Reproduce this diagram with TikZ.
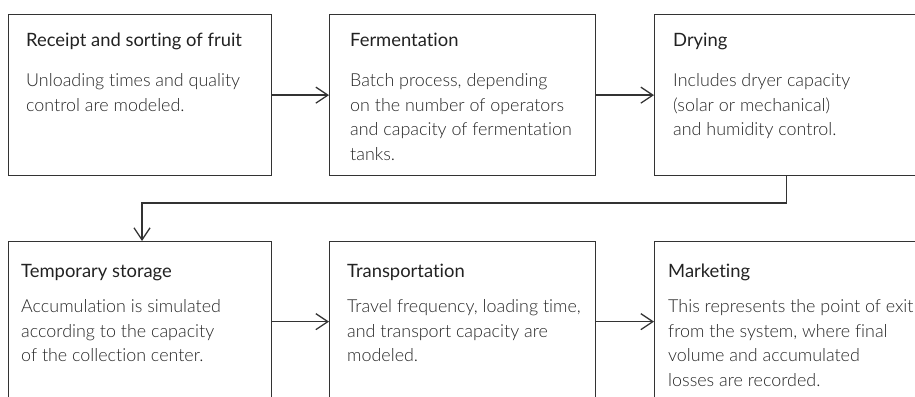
\documentclass[tikz,border=0pt]{standalone}
\usepackage{fontspec}
\setmainfont{Lato}[Ligatures={NoCommon}]
\newfontfamily\lightfont{Lato Light}[Ligatures={NoCommon}]
\usetikzlibrary{arrows.meta}
\definecolor{linec}{HTML}{333333}
\definecolor{titlec}{HTML}{222222}
\definecolor{bodyc}{HTML}{262626}
\newcommand\mylines[1]{\vtop{\halign{##\hfil\cr#1\crcr}}}
\begin{document}
\begin{tikzpicture}[x=1pt,y=1pt,
  box/.style={draw=linec, line width=1.3pt, inner sep=0pt, anchor=north west},
  ttl/.style={anchor=base west, inner sep=0pt, font=\fontsize{18.4}{22}\selectfont, text=titlec},
  bdy/.style={anchor=base west, inner sep=0pt, font=\lightfont\fontsize{17.9}{24.5}\selectfont, text=bodyc},
  conn/.style={draw=linec, line width=1.3pt, -{Straight Barb[length=12pt,width=16pt]}}]
\useasboundingbox (0,0) rectangle (915,396);
\clip (0,0) rectangle (915,396);
% boxes
\node[box, minimum width=263pt, minimum height=161pt] (b1) at (8,382) {};
\node[box, minimum width=266pt, minimum height=161pt] (b2) at (329,382) {};
\node[box, minimum width=264pt, minimum height=161pt] (b3) at (654,382) {};
\node[box, minimum width=263pt, minimum height=160pt] (b4) at (8,155) {};
\node[box, minimum width=266pt, minimum height=160pt] (b5) at (329,155) {};
\node[box, minimum width=264pt, minimum height=160pt] (b6) at (654,155) {};
% texts
\node[ttl] (t1) at (26,349) {Receipt and sorting of fruit};
\node[bdy] (d1) at (26,309) {\mylines{Unloading times and quality\cr control are modeled.}};
\node[ttl] (t2) at (350,349) {Fermentation};
\node[bdy] (d2) at (350,309) {\mylines{Batch process, depending\cr on the number of operators\cr and capacity of fermentation\cr tanks.}};
\node[ttl] (t3) at (673,349) {Drying};
\node[bdy] (d3) at (673,309) {\mylines{Includes dryer capacity\cr (solar or mechanical)\cr and humidity control.}};
\node[ttl] (t4) at (21,118) {Temporary storage};
\node[bdy] (d4) at (21,83) {\mylines{Accumulation is simulated\cr according to the capacity\cr of the collection center.}};
\node[ttl] (t5) at (347,118) {Transportation};
\node[bdy] (d5) at (347,83) {\mylines{Travel frequency, loading time,\cr and transport capacity are\cr modeled.}};
\node[ttl] (t6) at (668,118) {Marketing};
\node[bdy] (d6) at (668,83) {\mylines{This represents the point of exit\cr from the system, where final\cr volume and accumulated\cr losses are recorded.}};
% connectors
\coordinate (m) at (142,193);
\draw[conn] (b1.east) -- (b2.west);
\draw[conn] (b2.east) -- (b3.west);
\draw[conn] (b3.south) |- (m) -- (m |- b4.north);
\draw[conn] (b4.east) -- (b5.west);
\draw[conn] (b5.east) -- (b6.west);
\end{tikzpicture}
\end{document}
